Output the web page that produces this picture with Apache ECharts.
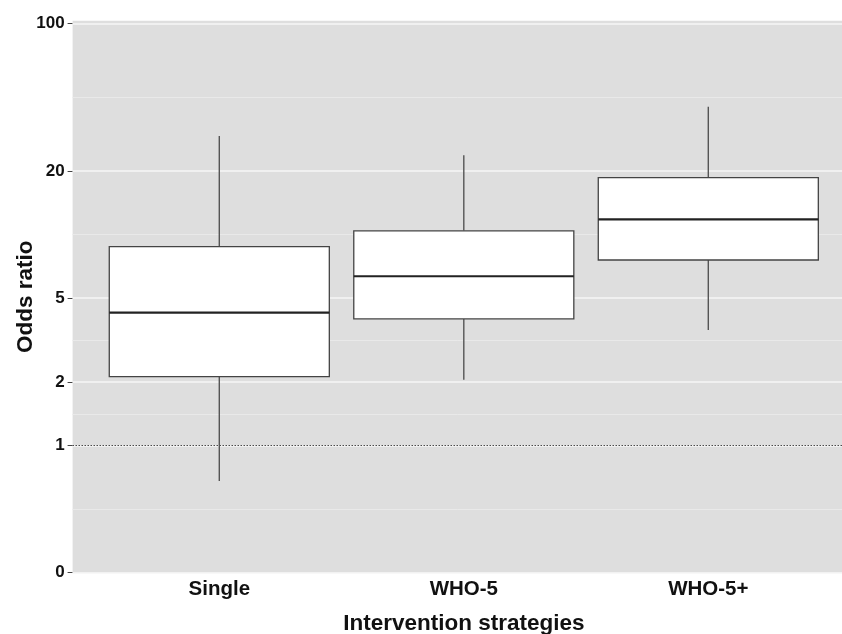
<!DOCTYPE html>
<html>
<head>
<meta charset="utf-8">
<title>Odds ratio by intervention strategy</title>
<script src="https://cdn.jsdelivr.net/npm/echarts@6/dist/echarts.min.js"></script>
<style>
  html, body { margin: 0; padding: 0; background: #fff; }
  #chart { width: 842px; height: 634px; }
</style>
</head>
<body>
<div id="chart"></div>
<script>
  // box statistics (odds ratio)
  var categories = ['Single', 'WHO-5', 'WHO-5+'];
  var whiskerLow = [0.68, 2.05, 3.53];
  var q1 = [2.12, 3.98, 7.57];
  var median = [4.26, 6.34, 11.8];
  var q3 = [8.75, 10.4, 18.6];
  var whiskerHigh = [29.3, 23.7, 40.3];

  // y axis (log10 scale), the "0" label sits at the bottom of the panel
  var yTickValues = [0.25, 1, 2, 5, 20, 100];
  var yTickLabels = ['0', '1', '2', '5', '20', '100'];
  var yMin = 0.25;
  var yMax = 102.9;
  var refLine = 1;

  var FONT = '"Liberation Sans", Arial, Helvetica, sans-serif';
  var lg = function (v) { return Math.log10(v); };

  var majorLog = yTickValues.map(lg);
  // minor lines halfway between breaks (in log space), like ggplot
  var minorLog = [];
  for (var i = 0; i < majorLog.length - 1; i++) {
    minorLog.push((majorLog[i] + majorLog[i + 1]) / 2);
  }

  var boxData = categories.map(function (c, i) {
    return [i + 1, lg(whiskerLow[i]), lg(q1[i]), lg(median[i]), lg(q3[i]), lg(whiskerHigh[i])];
  });

  var myChart = echarts.init(document.getElementById('chart'), null, { renderer: 'canvas' });

  var option = {
    animation: false,
    grid: {
      left: 72.6,
      right: -13,
      top: 20.7,
      bottom: 61.3,
      outerBoundsMode: 'none',
      containLabel: false,
      show: true,
      backgroundColor: '#dedede',
      borderWidth: 0
    },
    xAxis: {
      type: 'value',
      min: 0.4,
      max: 3.6,
      axisLine: { show: false },
      axisTick: { show: false },
      splitLine: { show: false },
      axisLabel: {
        customValues: [1, 2, 3],
        formatter: function (v) { return categories[Math.round(v) - 1]; },
        fontFamily: FONT,
        fontWeight: 'bold',
        fontSize: 20.5,
        color: '#111',
        margin: 6
      },
      name: 'Intervention strategies',
      nameLocation: 'middle',
      nameGap: 40,
      nameMoveOverlap: false,
      nameTextStyle: {
        fontFamily: FONT,
        fontWeight: 'bold',
        fontSize: 22.5,
        color: '#111'
      }
    },
    yAxis: {
      type: 'value',
      min: lg(yMin),
      max: lg(yMax),
      axisLine: { show: false },
      splitLine: { show: false },
      axisTick: {
        show: true,
        customValues: majorLog,
        length: 5,
        lineStyle: { color: '#444', width: 1 }
      },
      axisLabel: {
        customValues: majorLog,
        formatter: function (v) {
          for (var k = 0; k < majorLog.length; k++) {
            if (Math.abs(majorLog[k] - v) < 1e-6) return yTickLabels[k];
          }
          return '';
        },
        fontFamily: FONT,
        fontWeight: 'bold',
        fontSize: 17,
        color: '#111',
        margin: 8
      },
      name: 'Odds ratio',
      nameLocation: 'middle',
      nameGap: 35,
      nameMoveOverlap: false,
      nameTextStyle: {
        fontFamily: FONT,
        fontWeight: 'bold',
        fontSize: 22.5,
        color: '#111'
      }
    },
    series: [
      {
        // panel grid lines
        type: 'line',
        data: [],
        z: 1,
        silent: true,
        markLine: {
          z: 1,
          silent: true,
          symbol: 'none',
          label: { show: false },
          animation: false,
          data: minorLog.map(function (v) {
            return { yAxis: v, lineStyle: { color: '#e9e9e9', width: 1, type: 'solid' } };
          }).concat(majorLog.map(function (v) {
            return { yAxis: v, lineStyle: { color: '#f6f6f6', width: 1.6, type: 'solid' } };
          }))
        }
      },
      {
        // dotted reference line at OR = 1
        type: 'line',
        data: [],
        z: 2,
        silent: true,
        markLine: {
          z: 2,
          silent: true,
          symbol: 'none',
          label: { show: false },
          animation: false,
          data: [{ yAxis: lg(refLine) }],
          lineStyle: { color: '#222', width: 1.1, type: [1.2, 1.8] }
        }
      },
      {
        type: 'custom',
        z: 10,
        data: boxData,
        encode: { x: 0, y: [1, 2, 3, 4, 5] },
        renderItem: function (params, api) {
          var x = api.value(0);
          var w = api.size([0.9, 0])[0];
          var lo = api.coord([x, api.value(1)]);
          var b1 = api.coord([x, api.value(2)]);
          var md = api.coord([x, api.value(3)]);
          var b3 = api.coord([x, api.value(4)]);
          var hi = api.coord([x, api.value(5)]);
          var cx = lo[0];
          var whisk = { stroke: '#555', lineWidth: 1.4 };
          return {
            type: 'group',
            children: [
              { type: 'line', shape: { x1: cx, y1: hi[1], x2: cx, y2: b3[1] }, style: whisk },
              { type: 'line', shape: { x1: cx, y1: b1[1], x2: cx, y2: lo[1] }, style: whisk },
              {
                type: 'rect',
                shape: { x: cx - w / 2, y: b3[1], width: w, height: b1[1] - b3[1] },
                style: { fill: '#fff', stroke: '#444', lineWidth: 1.3 }
              },
              {
                type: 'line',
                shape: { x1: cx - w / 2, y1: md[1], x2: cx + w / 2, y2: md[1] },
                style: { stroke: '#222', lineWidth: 2.2 }
              }
            ]
          };
        }
      }
    ]
  };

  myChart.setOption(option);
</script>
</body>
</html>
